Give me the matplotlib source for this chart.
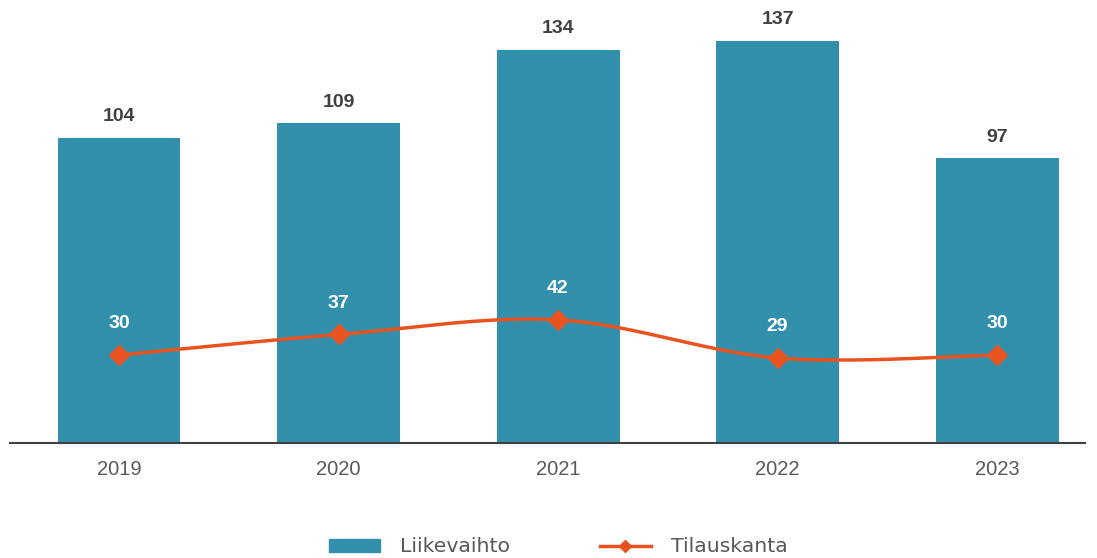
import numpy as np
import matplotlib.pyplot as plt
from matplotlib.lines import Line2D
from matplotlib.patches import Patch

years = ['2019', '2020', '2021', '2022', '2023']
liikevaihto = [104, 109, 134, 137, 97]
tilauskanta = [30, 37, 42, 29, 30]

BAR_C = '#3390AC'
LINE_C = '#E8531F'


def smooth(xs, ys, n=40, t=0.5):
    # catmull-rom style curve like office "smoothed line"
    xs = np.asarray(xs, float); ys = np.asarray(ys, float)
    px, py = [], []
    for i in range(len(xs) - 1):
        x0, y0 = (xs[i-1], ys[i-1]) if i > 0 else (xs[i], ys[i])
        x3, y3 = (xs[i+2], ys[i+2]) if i + 2 < len(xs) else (xs[i+1], ys[i+1])
        x1, y1, x2, y2 = xs[i], ys[i], xs[i+1], ys[i+1]
        c1 = (x1 + (x2 - x0) * t / 3, y1 + (y2 - y0) * t / 3)
        c2 = (x2 - (x3 - x1) * t / 3, y2 - (y3 - y1) * t / 3)
        s = np.linspace(0, 1, n)
        bx = (1-s)**3*x1 + 3*(1-s)**2*s*c1[0] + 3*(1-s)*s**2*c2[0] + s**3*x2
        by = (1-s)**3*y1 + 3*(1-s)**2*s*c1[1] + 3*(1-s)*s**2*c2[1] + s**3*y2
        px.extend(bx); py.extend(by)
    return np.array(px), np.array(py)


fig = plt.figure(figsize=(10.97, 5.58), dpi=100)
ax = fig.add_axes([0.009, 0.206, 0.98, 0.794])

x = np.arange(len(years))
ax.bar(x, liikevaihto, width=0.56, color=BAR_C, zorder=2)
for xi, v in zip(x, liikevaihto):
    ax.text(xi, v + 4.3, str(v), ha='center', va='bottom', fontsize=14,
            fontweight='bold', color='#404040', family='Liberation Sans')

sx, sy = smooth(x, tilauskanta)
ax.plot(sx, sy, color=LINE_C, lw=2.5, zorder=3)
ax.plot(x, tilauskanta, ls='none', marker='D', ms=10, color=LINE_C, zorder=4)
for xi, v in zip(x, tilauskanta):
    ax.text(xi, v + 7.8, str(v), ha='center', va='bottom', fontsize=14,
            fontweight='bold', color='white', family='Liberation Sans', zorder=5)

ax.set_xlim(-0.497, 4.4)
ax.set_ylim(0, 151)
ax.set_yticks([])
ax.set_xticks(x)
ax.set_xticklabels(years, fontsize=14.5, color='#595959', family='Liberation Sans')
ax.tick_params(axis='x', length=0, pad=12)
for s in ['top', 'right', 'left']:
    ax.spines[s].set_visible(False)
ax.spines['bottom'].set_color('#404040')
ax.spines['bottom'].set_linewidth(1.5)

handles = [Patch(color=BAR_C, label='Liikevaihto'),
           Line2D([0], [0], color=LINE_C, lw=2.5, marker='D', ms=6, label='Tilauskanta')]
fig.legend(handles=handles, loc='center', bbox_to_anchor=(0.509, 0.02), ncol=2,
           frameon=False, handlelength=2.5, handleheight=0.6,
           columnspacing=4.4, handletextpad=1.0,
           prop={'family': 'DejaVu Sans', 'size': 14.7})
for t in fig.legends[0].get_texts():
    t.set_color('#595959')

fig.savefig('out.png', dpi=100)
